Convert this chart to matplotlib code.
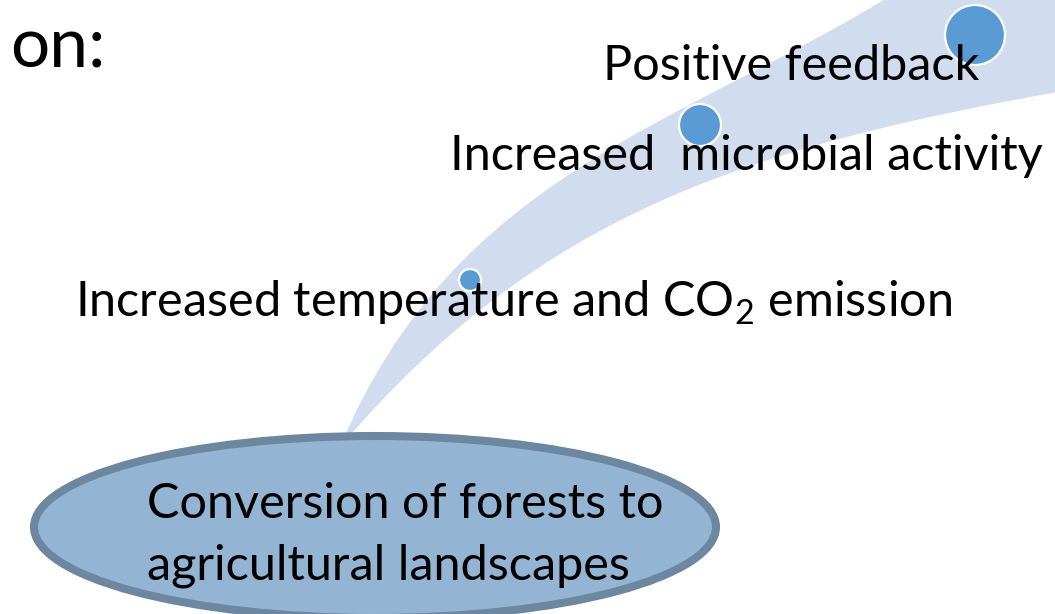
import matplotlib.pyplot as plt
from matplotlib.patches import Ellipse, Circle, PathPatch
from matplotlib.path import Path

plt.rcParams['font.family'] = ['Lato', 'DejaVu Sans']
plt.rcParams['mathtext.fontset'] = 'custom'
plt.rcParams['mathtext.rm'] = 'Lato'

# text labels and where they sit (x left, y baseline, in pixels from top-left)
labels = ["on:", "Positive feedback", "Increased  microbial activity",
          r"Increased temperature and CO$_\mathregular{2}$ emission",
          "Conversion of forests to", "agricultural landscapes"]
label_x = [10, 603, 450, 75, 147, 147]
label_y = [68, 80, 170, 317, 518, 580]
label_size = [50, 35, 35, 35, 35, 35]

# circles along the band: centre x, centre y, radius
dot_x = [470, 700, 975]
dot_y = [280, 125, 35]
dot_r = [11, 21, 30]

fig = plt.figure(figsize=(10.55, 6.14), dpi=100)
ax = fig.add_axes([0, 0, 1, 1])
ax.set_xlim(0, 1055)
ax.set_ylim(614, 0)
ax.axis('off')

# curved band
verts = [(340, 447), (455, 172), (684, 125), (900, -10),
         (1080, -10),
         (1080, 88), (747, 146), (539.5, 212.5), (340, 447),
         (340, 447)]
codes = [Path.MOVETO, Path.CURVE4, Path.CURVE4, Path.CURVE4,
         Path.LINETO,
         Path.LINETO, Path.CURVE4, Path.CURVE4, Path.CURVE4,
         Path.CLOSEPOLY]
ax.add_patch(PathPatch(Path(verts, codes), facecolor='#d1ddee', edgecolor='none', zorder=1))

# ellipse
ax.add_patch(Ellipse((375, 527), 682, 182, facecolor='#94b4d3', edgecolor='#6d87a0',
                     linewidth=5.8, zorder=2))

for x, y, r in zip(dot_x, dot_y, dot_r):
    ax.add_patch(Circle((x, y), r, facecolor='#5b9bd5', edgecolor='white', linewidth=1.6, zorder=3))

for t, x, y, s in zip(labels, label_x, label_y, label_size):
    ax.text(x, y, t, fontsize=s, color='black', ha='left', va='baseline', zorder=4)

fig.savefig('out.png', dpi=100)
